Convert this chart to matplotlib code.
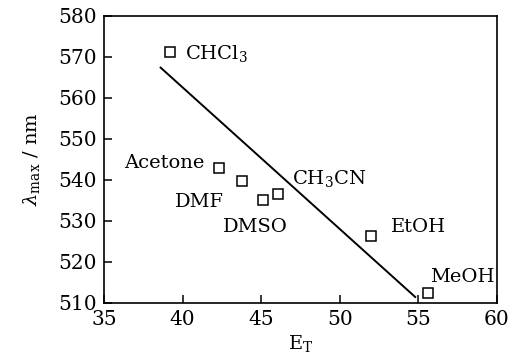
import numpy as np
import matplotlib
matplotlib.use('Agg')
import matplotlib.pyplot as plt

plt.rcParams['font.family'] = ['DejaVu Serif']
plt.rcParams['mathtext.fontset'] = 'dejavuserif'

# solvent data (E_T, lambda_max)
solvents = ['CHCl$_3$', 'Acetone', 'DMF', 'DMSO', 'CH$_3$CN', 'EtOH', 'MeOH']
et = [39.2, 42.3, 43.8, 45.1, 46.1, 52.0, 55.6]
lam = [571.2, 543.0, 539.7, 535.0, 536.6, 526.2, 512.4]

# fitted line end points
fit_x = [38.6, 54.8]
fit_y = [567.4, 511.4]

# label offsets in points
label_pos = [(11, -5), (-10, 0), (-13, -19), (18, -23), (10, 7), (14, 3), (1.5, 8)]
label_ha = ['left', 'right', 'right', 'right', 'left', 'left', 'left']

fig = plt.figure(figsize=(5.16, 3.61), dpi=100)
ax = fig.add_axes([0.2016, 0.1615, 0.7614, 0.7942])

ax.plot(fit_x, fit_y, color='black', lw=1.4)
ax.plot(et, lam, 's', ms=7.5, mfc='white', mec='black', mew=1.1, ls='none')

for name, x, y, off, ha in zip(solvents, et, lam, label_pos, label_ha):
    ax.annotate(name, (x, y), xytext=off, textcoords='offset points',
                ha=ha, va='baseline', fontsize=14)

ax.set_xlim(35, 60)
ax.set_ylim(510, 580)
ax.set_xticks([35, 40, 45, 50, 55, 60])
ax.set_yticks([510, 520, 530, 540, 550, 560, 570, 580])
ax.tick_params(direction='in', length=6, width=1.1, labelsize=14.5, pad=5)
for s in ax.spines.values():
    s.set_linewidth(1.2)

ax.set_xlabel('E$_\\mathrm{T}$', fontsize=14, labelpad=3)
ax.set_ylabel('$\\lambda_\\mathrm{max}$ / nm', fontsize=14, labelpad=12)

fig.savefig('out.png', dpi=100)
